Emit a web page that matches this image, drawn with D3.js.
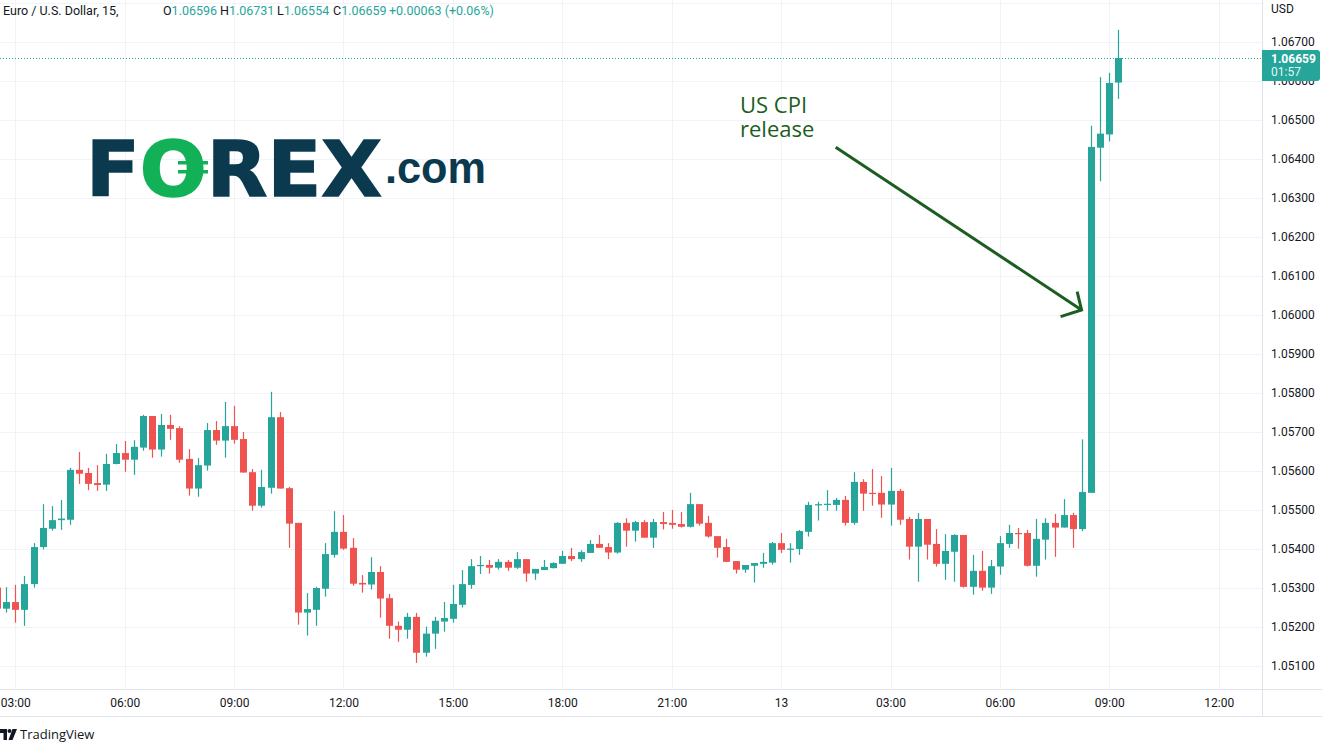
<!DOCTYPE html>
<html>
<head>
<meta charset="utf-8">
<script src="https://cdn.jsdelivr.net/npm/d3@7"></script>
<style>
  html, body { margin: 0; padding: 0; background: #ffffff; }
  svg { display: block; }
</style>
</head>
<body>
<svg id="chart" width="1322" height="744"></svg>
<script>
// ---------------- DATA ----------------
const times = [
  "2022-12-12 02:30","2022-12-12 02:45","2022-12-12 03:00","2022-12-12 03:15","2022-12-12 03:30","2022-12-12 03:45",
  "2022-12-12 04:00","2022-12-12 04:15","2022-12-12 04:30","2022-12-12 04:45","2022-12-12 05:00","2022-12-12 05:15",
  "2022-12-12 05:30","2022-12-12 05:45","2022-12-12 06:00","2022-12-12 06:15","2022-12-12 06:30","2022-12-12 06:45",
  "2022-12-12 07:00","2022-12-12 07:15","2022-12-12 07:30","2022-12-12 07:45","2022-12-12 08:00","2022-12-12 08:15",
  "2022-12-12 08:30","2022-12-12 08:45","2022-12-12 09:00","2022-12-12 09:15","2022-12-12 09:30","2022-12-12 09:45",
  "2022-12-12 10:00","2022-12-12 10:15","2022-12-12 10:30","2022-12-12 10:45","2022-12-12 11:00","2022-12-12 11:15",
  "2022-12-12 11:30","2022-12-12 11:45","2022-12-12 12:00","2022-12-12 12:15","2022-12-12 12:30","2022-12-12 12:45",
  "2022-12-12 13:00","2022-12-12 13:15","2022-12-12 13:30","2022-12-12 13:45","2022-12-12 14:00","2022-12-12 14:15",
  "2022-12-12 14:30","2022-12-12 14:45","2022-12-12 15:00","2022-12-12 15:15","2022-12-12 15:30","2022-12-12 15:45",
  "2022-12-12 16:00","2022-12-12 16:15","2022-12-12 16:30","2022-12-12 16:45","2022-12-12 17:00","2022-12-12 17:15",
  "2022-12-12 17:30","2022-12-12 17:45","2022-12-12 18:00","2022-12-12 18:15","2022-12-12 18:30","2022-12-12 18:45",
  "2022-12-12 19:00","2022-12-12 19:15","2022-12-12 19:30","2022-12-12 19:45","2022-12-12 20:00","2022-12-12 20:15",
  "2022-12-12 20:30","2022-12-12 20:45","2022-12-12 21:00","2022-12-12 21:15","2022-12-12 21:30","2022-12-12 21:45",
  "2022-12-12 22:00","2022-12-12 22:15","2022-12-12 22:30","2022-12-12 22:45","2022-12-12 23:00","2022-12-12 23:15",
  "2022-12-12 23:30","2022-12-12 23:45",
  "2022-12-13 00:00","2022-12-13 00:15","2022-12-13 00:30","2022-12-13 00:45","2022-12-13 01:00","2022-12-13 01:15",
  "2022-12-13 01:30","2022-12-13 01:45","2022-12-13 02:00","2022-12-13 02:15","2022-12-13 02:30","2022-12-13 02:45",
  "2022-12-13 03:00","2022-12-13 03:15","2022-12-13 03:30","2022-12-13 03:45","2022-12-13 04:00","2022-12-13 04:15",
  "2022-12-13 04:30","2022-12-13 04:45","2022-12-13 05:00","2022-12-13 05:15","2022-12-13 05:30","2022-12-13 05:45",
  "2022-12-13 06:00","2022-12-13 06:15","2022-12-13 06:30","2022-12-13 06:45","2022-12-13 07:00","2022-12-13 07:15",
  "2022-12-13 07:30","2022-12-13 07:45","2022-12-13 08:00","2022-12-13 08:15","2022-12-13 08:30","2022-12-13 08:45",
  "2022-12-13 09:00","2022-12-13 09:15"
];
const opens = [
  1.05301,1.05247,1.05264,1.05244,1.05310,1.05405,1.05452,1.05474,1.05475,1.05603,1.05595,1.05569,
  1.05565,1.05618,1.05646,1.05629,1.05660,1.05741,1.05655,1.05718,1.05710,1.05631,1.05555,1.05614,
  1.05705,1.05678,1.05715,1.05682,1.05597,1.05511,1.05557,1.05738,1.05556,1.05467,1.05237,1.05244,
  1.05298,1.05385,1.05444,1.05403,1.05313,1.05309,1.05341,1.05274,1.05203,1.05193,1.05226,1.05134,
  1.05183,1.05214,1.05221,1.05257,1.05308,1.05356,1.05359,1.05352,1.05367,1.05352,1.05374,1.05337,
  1.05346,1.05351,1.05362,1.05382,1.05374,1.05390,1.05413,1.05405,1.05391,1.05467,1.05447,1.05469,
  1.05429,1.05469,1.05467,1.05464,1.05457,1.05515,1.05467,1.05433,1.05405,1.05369,1.05347,1.05357,
  1.05362,1.05365,
  1.05415,1.05398,1.05400,1.05444,1.05513,1.05513,1.05513,1.05526,1.05467,1.05572,1.05544,1.05544,
  1.05514,1.05549,1.05477,1.05406,1.05477,1.05413,1.05362,1.05393,1.05436,1.05303,1.05344,1.05301,
  1.05355,1.05413,1.05441,1.05441,1.05357,1.05424,1.05467,1.05455,1.05487,1.05451,1.05544,1.06429,
  1.06463,1.06596
];
const highs = [
  1.05305,1.05302,1.05308,1.05331,1.05415,1.05515,1.05510,1.05526,1.05608,1.05649,1.05608,1.05615,
  1.05644,1.05669,1.05677,1.05679,1.05744,1.05741,1.05746,1.05744,1.05715,1.05656,1.05633,1.05723,
  1.05728,1.05777,1.05767,1.05700,1.05605,1.05603,1.05803,1.05751,1.05559,1.05467,1.05287,1.05303,
  1.05415,1.05497,1.05487,1.05428,1.05333,1.05379,1.05356,1.05285,1.05214,1.05236,1.05236,1.05201,
  1.05226,1.05264,1.05308,1.05346,1.05374,1.05382,1.05372,1.05374,1.05372,1.05392,1.05374,1.05349,
  1.05372,1.05366,1.05395,1.05403,1.05397,1.05423,1.05436,1.05415,1.05469,1.05479,1.05472,1.05474,
  1.05477,1.05495,1.05500,1.05495,1.05544,1.05515,1.05485,1.05433,1.05426,1.05369,1.05359,1.05364,
  1.05390,1.05418,
  1.05441,1.05415,1.05449,1.05521,1.05521,1.05551,1.05531,1.05536,1.05597,1.05579,1.05605,1.05587,
  1.05608,1.05554,1.05482,1.05492,1.05477,1.05451,1.05438,1.05438,1.05436,1.05385,1.05395,1.05372,
  1.05433,1.05462,1.05454,1.05449,1.05477,1.05479,1.05490,1.05528,1.05493,1.05681,1.06485,1.06610,
  1.06621,1.06731
];
const lows = [
  1.05240,1.05237,1.05211,1.05203,1.05301,1.05399,1.05447,1.05449,1.05462,1.05567,1.05551,1.05549,
  1.05549,1.05617,1.05598,1.05590,1.05652,1.05634,1.05637,1.05680,1.05621,1.05537,1.05534,1.05601,
  1.05667,1.05634,1.05670,1.05596,1.05498,1.05506,1.05542,1.05555,1.05403,1.05206,1.05178,1.05203,
  1.05278,1.05378,1.05398,1.05306,1.05288,1.05296,1.05224,1.05170,1.05162,1.05170,1.05108,1.05124,
  1.05144,1.05188,1.05211,1.05250,1.05298,1.05336,1.05337,1.05347,1.05344,1.05349,1.05316,1.05321,
  1.05346,1.05350,1.05362,1.05369,1.05367,1.05390,1.05403,1.05374,1.05388,1.05406,1.05419,1.05429,
  1.05403,1.05450,1.05452,1.05455,1.05455,1.05460,1.05429,1.05378,1.05367,1.05337,1.05339,1.05314,
  1.05352,1.05360,
  1.05390,1.05365,1.05385,1.05432,1.05473,1.05498,1.05498,1.05460,1.05462,1.05498,1.05511,1.05480,
  1.05460,1.05462,1.05373,1.05316,1.05373,1.05355,1.05321,1.05316,1.05301,1.05283,1.05293,1.05285,
  1.05334,1.05403,1.05401,1.05355,1.05329,1.05373,1.05380,1.05455,1.05403,1.05446,1.05544,1.06343,
  1.06445,1.06554
];
const closes = [
  1.05247,1.05264,1.05244,1.05310,1.05405,1.05454,1.05474,1.05478,1.05603,1.05593,1.05567,1.05564,
  1.05618,1.05646,1.05629,1.05662,1.05741,1.05655,1.05718,1.05708,1.05629,1.05555,1.05615,1.05705,
  1.05678,1.05715,1.05680,1.05596,1.05511,1.05559,1.05738,1.05555,1.05465,1.05237,1.05246,1.05300,
  1.05387,1.05444,1.05401,1.05311,1.05309,1.05341,1.05273,1.05203,1.05193,1.05226,1.05134,1.05183,
  1.05216,1.05223,1.05259,1.05310,1.05356,1.05359,1.05352,1.05367,1.05352,1.05374,1.05337,1.05349,
  1.05354,1.05364,1.05382,1.05374,1.05392,1.05413,1.05403,1.05391,1.05467,1.05447,1.05469,1.05429,
  1.05469,1.05464,1.05462,1.05457,1.05515,1.05465,1.05432,1.05403,1.05367,1.05347,1.05359,1.05364,
  1.05367,1.05415,
  1.05398,1.05401,1.05446,1.05513,1.05515,1.05516,1.05526,1.05467,1.05572,1.05542,1.05541,1.05514,
  1.05549,1.05475,1.05406,1.05477,1.05411,1.05362,1.05395,1.05436,1.05303,1.05344,1.05301,1.05356,
  1.05415,1.05441,1.05438,1.05357,1.05426,1.05467,1.05455,1.05487,1.05451,1.05546,1.06431,1.06465,
  1.06595,1.06659
];
const priceTicks = [1.051,1.052,1.053,1.054,1.055,1.056,1.057,1.058,1.059,1.060,1.061,1.062,1.063,1.064,1.065,1.066,1.067];
const gridPrices = [1.051,1.052,1.053,1.054,1.055,1.056,1.057,1.058,1.059,1.060,1.061,1.062,1.063,1.064,1.065,1.066,1.067,1.068];
const timeTicks = ["2022-12-12 03:00","2022-12-12 06:00","2022-12-12 09:00","2022-12-12 12:00","2022-12-12 15:00",
  "2022-12-12 18:00","2022-12-12 21:00","2022-12-13 00:00","2022-12-13 03:00","2022-12-13 06:00",
  "2022-12-13 09:00","2022-12-13 12:00"];
const timeTickLabels = ["03:00","06:00","09:00","12:00","15:00","18:00","21:00","13","03:00","06:00","09:00","12:00"];
const symbolTitle = "Euro / U.S. Dollar, 15,";
const lastOHLC = {O:"1.06596", H:"1.06731", L:"1.06554", C:"1.06659"};
const lastChange = "+0.00063 (+0.06%)";
const lastPriceLabel = "1.06659";
const countdownLabel = "01:57";
const annotationLines = ["US CPI", "release"];
const annotationTime = "2022-12-13 08:30";
const annotationPrice = 1.06013;

// ---------------- LAYOUT ----------------
const W = 1322, H = 744;
const plotRight = 1262, plotBottom = 689;
const parse = d3.utcParse("%Y-%m-%d %H:%M");
const bars = times.map((t, i) => ({t: parse(t), o: opens[i], h: highs[i], l: lows[i], c: closes[i]}));

const x = d3.scaleUtc()
  .domain([parse("2022-12-12 03:00"), parse("2022-12-13 09:00")])
  .range([15.3, 1109.3]);
const y = d3.scaleLinear().domain([1.051, 1.067]).range([666, 42]);
const step = x(parse("2022-12-12 03:15")) - x(parse("2022-12-12 03:00"));
const bodyW = Math.round(step * 0.78);

const up = "#26a69a", down = "#ef5350";
const gridColor = "#f0f3fa";
const textColor = "#131722";
const font = "Roboto, 'Liberation Sans', sans-serif";

const svg = d3.select("#chart");
svg.append("rect").attr("width", W).attr("height", H).attr("fill", "#fff");

svg.append("defs").append("clipPath").attr("id", "plotclip")
  .append("rect").attr("x", 0).attr("y", 0).attr("width", plotRight).attr("height", plotBottom);

const plot = svg.append("g").attr("clip-path", "url(#plotclip)");

// grid
plot.append("g").selectAll("line").data(gridPrices).join("line")
  .attr("x1", 0).attr("x2", plotRight)
  .attr("y1", d => Math.round(y(d)) + 0.5).attr("y2", d => Math.round(y(d)) + 0.5)
  .attr("stroke", gridColor).attr("stroke-width", 1);
plot.append("g").selectAll("line").data(timeTicks).join("line")
  .attr("x1", d => Math.round(x(parse(d))) + 0.5).attr("x2", d => Math.round(x(parse(d))) + 0.5)
  .attr("y1", 0).attr("y2", plotBottom)
  .attr("stroke", gridColor).attr("stroke-width", 1);

// logo watermark (FOREX.com)
const logo = plot.append("g");
const logoText = logo.append("text")
  .attr("x", 86).attr("y", 196)
  .attr("font-family", "'DejaVu Sans', sans-serif").attr("font-weight", "bold")
  .attr("font-size", 76).attr("textLength", 296).attr("lengthAdjust", "spacingAndGlyphs")
  .attr("fill", "#0b3a4f").attr("stroke", "#0b3a4f").attr("stroke-width", 1.5);
logoText.append("tspan").text("F");
logoText.append("tspan").attr("fill", "#12b157").attr("stroke", "#12b157").text("O");
logoText.append("tspan").text("REX");
logo.append("rect").attr("x", 178).attr("y", 161).attr("width", 30).attr("height", 3.5).attr("fill", "#12b157");
logo.append("rect").attr("x", 178).attr("y", 170).attr("width", 30).attr("height", 3.5).attr("fill", "#12b157");
logo.append("text")
  .attr("x", 385).attr("y", 183)
  .attr("font-family", "'Liberation Sans', Arial, sans-serif").attr("font-weight", "bold")
  .attr("font-size", 45).attr("textLength", 101).attr("lengthAdjust", "spacingAndGlyphs")
  .attr("fill", "#0b3a4f").text(".com");

// last price dotted line
const lastClose = closes[closes.length - 1];
plot.append("line")
  .attr("x1", 0).attr("x2", plotRight)
  .attr("y1", Math.round(y(lastClose)) + 0.5).attr("y2", Math.round(y(lastClose)) + 0.5)
  .attr("stroke", up).attr("stroke-width", 1).attr("stroke-dasharray", "1,2");

// candles
const candles = plot.append("g").selectAll("g").data(bars).join("g");
candles.append("line")
  .attr("x1", d => Math.round(x(d.t)) + 0.5).attr("x2", d => Math.round(x(d.t)) + 0.5)
  .attr("y1", d => y(d.h)).attr("y2", d => y(d.l))
  .attr("stroke", d => d.c >= d.o ? up : down).attr("stroke-width", 1.2);
candles.append("rect")
  .attr("x", d => Math.round(x(d.t)) + 0.5 - bodyW / 2)
  .attr("width", bodyW)
  .attr("y", d => y(Math.max(d.o, d.c)))
  .attr("height", d => Math.max(1.2, Math.abs(y(d.o) - y(d.c))))
  .attr("fill", d => d.c >= d.o ? up : down);

// annotation
const annColor = "#1b5e20";
const ann = plot.append("g");
const annText = ann.append("text").attr("x", 740).attr("y", 113).attr("font-family", "'Open Sans', sans-serif")
  .attr("font-size", 22).attr("fill", annColor);
annText.append("tspan").attr("x", 740).attr("y", 113).text(annotationLines[0]);
annText.append("tspan").attr("x", 740).attr("y", 137).text(annotationLines[1]);
const tipX = x(parse(annotationTime)) - 9.5, tipY = y(annotationPrice);
ann.append("path")
  .attr("d", `M835.7,147.3 L${tipX},${tipY} M${tipX - 4.4},${tipY - 18.3} L${tipX},${tipY} L${tipX - 21},${tipY + 6.7}`)
  .attr("fill", "none").attr("stroke", annColor).attr("stroke-width", 3)
  .attr("stroke-linecap", "butt").attr("stroke-linejoin", "miter");

// header legend
svg.append("text").attr("x", 3).attr("y", 15).attr("font-family", font).attr("font-size", 12.5)
  .attr("fill", textColor).text(symbolTitle);
const ohlcPos = [["O", 163], ["H", 220], ["L", 277], ["C", 333]];
ohlcPos.forEach(([k, px]) => {
  const t = svg.append("text").attr("x", px).attr("y", 15).attr("font-family", font).attr("font-size", 12.5);
  t.append("tspan").attr("fill", textColor).text(k);
  t.append("tspan").attr("fill", up).text(lastOHLC[k]);
});
svg.append("text").attr("x", 389).attr("y", 15).attr("font-family", font).attr("font-size", 12.5)
  .attr("fill", up).text(lastChange);

// borders
svg.append("line").attr("x1", 0).attr("x2", W).attr("y1", plotBottom + 0.5).attr("y2", plotBottom + 0.5)
  .attr("stroke", "#e0e3eb");
svg.append("line").attr("x1", plotRight + 0.5).attr("x2", plotRight + 0.5).attr("y1", 0).attr("y2", 716)
  .attr("stroke", "#e0e3eb");
svg.append("line").attr("x1", 0).attr("x2", W).attr("y1", 716.5).attr("y2", 716.5)
  .attr("stroke", "#e0e3eb");

// y axis
const yAxis = d3.axisRight(y).tickValues(priceTicks).tickFormat(d3.format(".5f")).tickSize(0).tickPadding(9);
const yg = svg.append("g").attr("transform", `translate(${plotRight},0)`).call(yAxis);
yg.select(".domain").remove();
yg.selectAll("text").attr("font-family", font).attr("font-size", 12).attr("fill", textColor);
svg.append("text").attr("x", 1271).attr("y", 13).attr("font-family", font).attr("font-size", 12)
  .attr("fill", textColor).text("USD");

// x axis
const xAxis = d3.axisBottom(x).tickValues(timeTicks.map(parse))
  .tickFormat((d, i) => timeTickLabels[i]).tickSize(0).tickPadding(9);
const xg = svg.append("g").attr("transform", `translate(0,${plotBottom})`).call(xAxis);
xg.select(".domain").remove();
xg.selectAll("text").attr("font-family", font).attr("font-size", 12).attr("fill", textColor);

// last price label
const ly = y(lastClose);
svg.append("path")
  .attr("d", `M${plotRight},${ly - 8} H1317 Q1320,${ly - 8} 1320,${ly - 5} V${ly + 20} Q1320,${ly + 23} 1317,${ly + 23} H${plotRight} Z`)
  .attr("fill", up);
const priceLabel = svg.append("text").attr("font-family", font).attr("font-size", 12).attr("fill", "#fff");
priceLabel.append("tspan").attr("x", 1271).attr("y", ly + 5).attr("font-weight", "bold").text(lastPriceLabel);
priceLabel.append("tspan").attr("x", 1271).attr("y", ly + 18.5).attr("fill-opacity", 0.9).text(countdownLabel);

// TradingView footer
const tv = svg.append("g");
tv.append("path").attr("d", "M0,729 H7 V740 H3.5 V733 H0 Z").attr("fill", textColor);
tv.append("circle").attr("cx", 9.5).attr("cy", 731).attr("r", 2).attr("fill", textColor);
tv.append("path").attr("d", "M12.5,729 H17 L12.5,740 H8.5 Z").attr("fill", textColor);
tv.append("text").attr("x", 20).attr("y", 739).attr("font-family", "'Open Sans', sans-serif").attr("font-size", 13)
  .attr("fill", textColor).text("TradingView");
</script>
</body>
</html>
